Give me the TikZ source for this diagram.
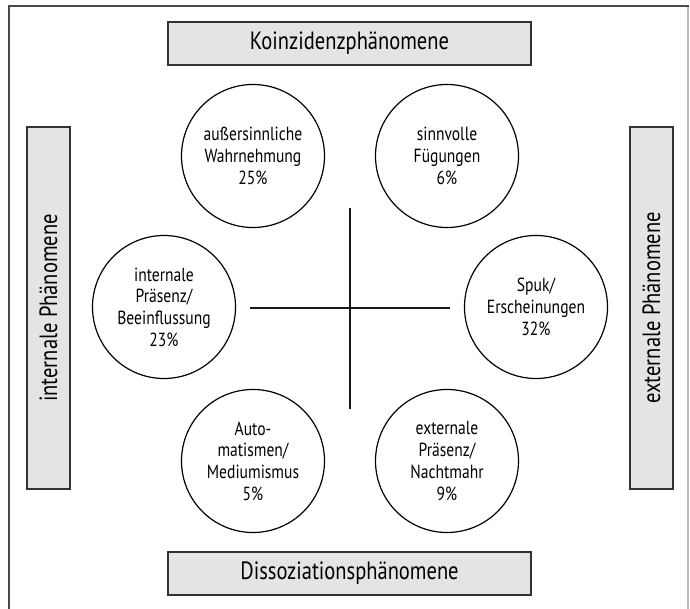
\documentclass[tikz,border=0pt]{standalone}
\usepackage{fontspec}
\setmainfont{PT Sans}[FakeStretch=0.82]
\definecolor{boxfill}{HTML}{E3E4E6}
\definecolor{boxline}{HTML}{333333}
\definecolor{frameline}{HTML}{4A4A4A}
\definecolor{frameright}{HTML}{BBBBBB}
\begin{document}
\begin{tikzpicture}[x=1pt,y=-1pt,
  catbox/.style={draw=boxline, line width=1.3pt, fill=boxfill, inner sep=0pt,
    font=\fontsize{25}{28}\selectfont},
  hbox/.style={catbox, minimum width=363pt, minimum height=43pt},
  vbox/.style={catbox, minimum width=43pt, minimum height=362pt},
  phen/.style={draw=black, line width=1.2pt, circle, minimum size=143pt, inner sep=0pt,
    align=center, font=\fontsize{19}{21.7}\selectfont},
  axis/.style={draw=black!90, line width=2pt}
]
\useasboundingbox (0,0) rectangle (690,609);

% outer frame (open at the bottom)
\draw[frameline, line width=2pt] (8,6) -- (689,6);
\draw[frameline, line width=2pt] (9,6) -- (9,609);
\draw[frameright, line width=1.5pt] (688,7) -- (688,609);

% category boxes
\node[hbox] (koinz) at (349.5,43.5) {Koinzidenzphänomene};
\node[hbox] (dissoz) at (349.5,573.5) {Dissoziationsphänomene};
\node[vbox] (intern) at (48.5,308) {\rotatebox{90}{internale Phänomene}};
\node[vbox] (extern) at (651.5,308) {\rotatebox{90}{externale Phänomene}};

% phenomena
\node[phen] (esp)   at (253,156) {außersinnliche\\Wahrnehmung\\25\%};
\node[phen] (fueg)  at (447,156) {sinnvolle\\Fügungen\\6\%};
\node[phen] (ipraes) at (164,307) {internale\\Präsenz/\\Beeinflussung\\23\%};
\node[phen] (spuk)  at (536,307) {Spuk/\\Erscheinungen\\32\%};
\node[phen] (auto)  at (253,461) {Auto-\\matismen/\\Mediumismus\\5\%};
\node[phen] (epraes) at (447,461) {externale\\Präsenz/\\Nachtmahr\\9\%};

% axis cross
\coordinate (top) at (350,208);
\coordinate (bottom) at (350,409);
\coordinate (left) at (250,308);
\coordinate (right) at (450,308);
\draw[axis] (top) -- (bottom);
\draw[axis] (left) -- (right);
\end{tikzpicture}
\end{document}
